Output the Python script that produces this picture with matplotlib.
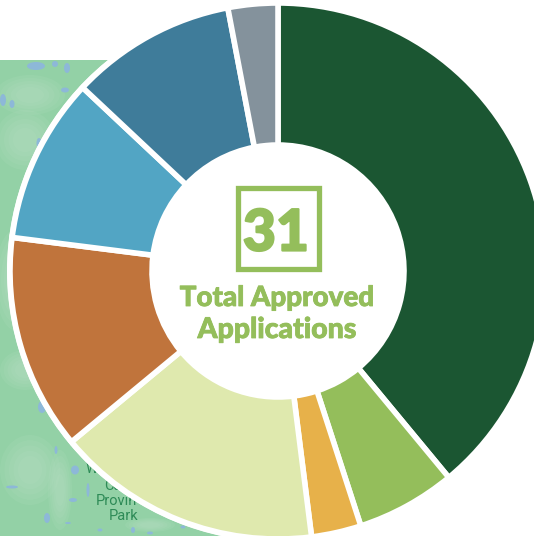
import matplotlib
matplotlib.use("Agg")
import matplotlib.pyplot as plt
import matplotlib.patheffects as pe
from matplotlib.patches import Rectangle, Circle, Ellipse

W, H = 534, 536
shares = [39, 6, 3, 16, 13, 10, 10, 3]
colors = ["#1b5632", "#94be5b", "#e7b14a", "#dfe9ae", "#c0743c", "#52a5c4", "#3f7c9a", "#84929c"]
total_label = "31"
center_lines = ["Total Approved", "Applications"]
map_labels = ["Ca", "Provin", "Park"]
lakes = [(36, 66, 18, 8), (55, 64, 6, 6), (67, 68, 6, 10), (65, 90, 8, 5), (3, 100, 6, 12), (12, 104, 5, 8),
         (39, 143, 5, 10), (21, 240, 4, 6), (42, 407, 8, 12), (75, 470, 8, 9), (56, 450, 3, 8),
         (12, 487, 12, 3), (73, 500, 8, 4), (47, 518, 6, 10), (88, 490, 3, 14), (68, 523, 6, 2),
         (100, 530, 5, 3), (133, 530, 4, 6), (183, 527, 5, 3), (150, 533, 6, 3)]
glows = [(30, 95, 70, 40), (25, 140, 60, 60), (15, 280, 40, 100), (30, 470, 60, 70), (60, 490, 24, 80),
         (25, 370, 50, 40), (150, 525, 50, 14)]

fig = plt.figure(figsize=(W / 100, H / 100), dpi=100)
ax = fig.add_axes([0, 0, 1, 1])
ax.add_patch(Rectangle((0, 60), 240, H - 60, fc="#93d1a6", ec="none", zorder=0))
for x, y, w, h in glows:
    for scale in (1.0, 0.85, 0.7, 0.55, 0.4):
        ax.add_patch(Ellipse((x, y), w * scale, h * scale, fc="#bfe3ca", ec="none", alpha=0.12, zorder=0.5))
for x, y, w, h in lakes:
    ax.add_patch(Ellipse((x, y), w, h, fc="#8db8d8", ec="none", zorder=1))
MAPC = "#2e8b57"
ax.text(92, 469, "W", color=MAPC, fontsize=10, ha="center", va="center", family="Roboto", zorder=1)
ax.text(113, 486, map_labels[0], color=MAPC, fontsize=10.5, ha="center", va="center", family="Roboto", zorder=1)
ax.text(116, 501, map_labels[1], color=MAPC, fontsize=10.5, ha="center", va="center", family="Roboto", zorder=1)
ax.text(124, 516, map_labels[2], color=MAPC, fontsize=10.5, ha="center", va="center", family="Roboto", zorder=1)

cx, cy, r = 278, 271, 268
ax.add_patch(Circle((cx, cy), r + 3, fc="white", ec="none", zorder=2))
# y axis is inverted, so the wedges run clockwise on screen from 12 o'clock
wedges, _ = ax.pie(shares, colors=colors, startangle=-90, counterclock=True, center=(cx, cy), radius=r,
                   wedgeprops=dict(width=r - 126, edgecolor="white", linewidth=4.0), frame=True)
for w in wedges:
    w.set_zorder(3)
ax.set_xlim(0, W)
ax.set_ylim(H, 0)
ax.set_aspect("auto")
ax.axis("off")

GREEN = "#94be5b"
ax.add_patch(Rectangle((237.5, 187.5), 81, 81, fc="white", ec=GREEN, lw=3.8, zorder=4))
ax.text(276, 250.5, total_label, color=GREEN, fontsize=41, fontweight="black", family="Lato",
        ha="center", va="baseline", zorder=5,
        path_effects=[pe.withStroke(linewidth=1.6, foreground=GREEN)])
ax.text(277, 306, center_lines[0], color=GREEN, fontsize=20, fontweight="black", family="Lato",
        ha="center", va="baseline", zorder=5,
        path_effects=[pe.withStroke(linewidth=0.6, foreground=GREEN)])
ax.text(277, 338, center_lines[1], color=GREEN, fontsize=20.5, fontweight="black", family="Lato",
        ha="center", va="baseline", zorder=5,
        path_effects=[pe.withStroke(linewidth=0.6, foreground=GREEN)])
fig.savefig("out.png", dpi=100, facecolor="white")
